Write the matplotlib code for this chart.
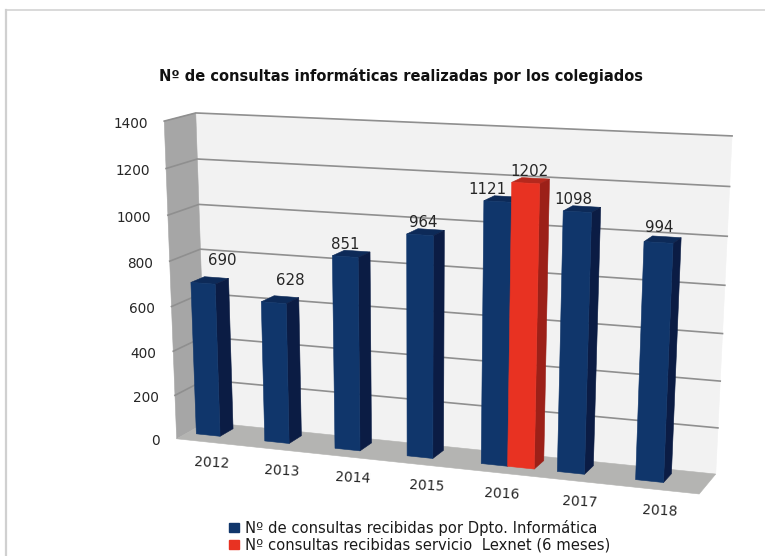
import numpy as np
import matplotlib
matplotlib.use("Agg")
import matplotlib.pyplot as plt

# values
years = ["2012", "2013", "2014", "2015", "2016", "2017", "2018"]
dpto = [690, 628, 851, 964, 1121, 1098, 994]
lexnet = [None, None, None, None, 1202, None, None]
value_ticks = [0, 200, 400, 600, 800, 1000, 1200, 1400]
legend_labels = ["Nº de consultas recibidas por Dpto. Informática",
                 "Nº consultas recibidas servicio  Lexnet (6 meses)"]
title = "Nº de consultas informáticas realizadas por los colegiados"

# data labels were moved by hand in the original, pixels from the top of each bar
label_dx = [19.5, 16.5, 0.5, 3.5, -10.5, -4.5, 0.5]
label_dy = [-23, -22, -12, -12, -12, -12, -15]

plt.rcParams["font.family"] = "DejaVu Sans"

W, H = 765, 556
fig = plt.figure(figsize=(W / 100, H / 100), dpi=100)
ax = fig.add_axes([0, 0, 1, 1])
ax.set_xlim(0, W)
ax.set_ylim(H, 0)
ax.axis("off")

# camera fitted to the corners of the chart box: (x 0-7, value 0-1400, depth 0-1) -> pixels
corners = [((0, 1400, 1), (197, 113)), ((7, 1400, 1), (732, 136)),
           ((7, 0, 1), (716, 473)), ((0, 0, 1), (205, 423)),
           ((0, 0, 0), (178, 438)), ((7, 0, 0), (699, 495)),
           ((0, 1400, 0), (163, 121))]
rows, rhs = [], []
for (cx, cy, cz), (px, py) in corners:
    p = [cx, cy / 1400, cz, 1]
    rows.append(p + [0, 0, 0, 0] + [-px * v for v in p[:3]])
    rows.append([0, 0, 0, 0] + p + [-py * v for v in p[:3]])
    rhs += [px, py]
cam = np.linalg.lstsq(np.array(rows, float), np.array(rhs, float), rcond=None)[0]
cam = np.append(cam, 1).reshape(3, 4)


def project(x, v, z):
    a = cam @ np.array([x, v / 1400, z, 1.0])
    return a[0] / a[2], a[1] / a[2]


def face(pts, color, zorder, **kw):
    xy = [project(*p) for p in pts]
    ax.fill([q[0] for q in xy], [q[1] for q in xy], color=color, zorder=zorder, lw=0.4, **kw)


# walls
face([(0, 0, 1), (7, 0, 1), (7, 1400, 1), (0, 1400, 1)], "#f2f2f2", 1)
face([(0, 0, 0), (0, 0, 1), (0, 1400, 1), (0, 1400, 0)], "#a6a6a6", 1)
face([(0, 0, 0), (7, 0, 0), (7, 0, 1), (0, 0, 1)], "#b4b4b2", 1)
for t in value_ticks[1:]:
    p0, p1, p2 = project(0, t, 0), project(0, t, 1), project(7, t, 1)
    ax.plot([p0[0], p1[0], p2[0]], [p0[1], p1[1], p2[1]], color="#8f8f8f", lw=1.2, zorder=2)

# bars
Z0, Z1 = 0.35, 0.8
BW = 0.35
OFF = 0.135


def bar(x0, x1, v, front, side, top, zo):
    face([(x0, 0, Z0), (x1, 0, Z0), (x1, v, Z0), (x0, v, Z0)], front, zo + 0.2)
    face([(x1, 0, Z0), (x1, 0, Z1), (x1, v, Z1), (x1, v, Z0)], side, zo + 0.1)
    face([(x0, v, Z0), (x1, v, Z0), (x1, v, Z1), (x0, v, Z1)], top, zo)


for i, v in enumerate(dpto):
    bar(i + OFF, i + OFF + BW, v, "#10366b", "#0b1c44", "#0d2a58", 3 + i)
    a = project(i + OFF + BW / 2, v, Z0)
    ax.text(a[0] + label_dx[i], a[1] + label_dy[i], str(v), ha="center", va="center",
            fontsize=10.8, color="#262626", zorder=20)
for i, v in enumerate(lexnet):
    if v is not None:
        bar(i + OFF + BW, i + OFF + 2 * BW, v, "#e83222", "#9c2018", "#b5281d", 3 + i + 0.5)
        a = project(i + OFF + 1.5 * BW, v, Z0)
        ax.text(a[0] + 3.5, a[1] - 12, str(v), ha="center", va="center",
                fontsize=10.8, color="#262626", zorder=20)

# tick labels
for t in value_ticks:
    a = project(0, t, 0)
    ax.text(a[0] - 16.5, a[1] + 2.5, str(t), ha="right", va="center", fontsize=9.8, color="#262626")
for i, y in enumerate(years):
    a = project(i + 0.5, 0, 0)
    ax.text(a[0] + 1, a[1] + 21, y, ha="center", va="center", fontsize=10, rotation=-3, color="#262626")

ax.text(401, 76, title, ha="center", va="center", fontsize=10.5, fontweight="bold", color="#111111")

# legend
for y, c, lab in zip([528, 545], ["#10366b", "#e83222"], legend_labels):
    ax.fill([229, 239, 239, 229], [y - 5, y - 5, y + 4, y + 4], color=c)
    ax.text(245, y, lab, ha="left", va="center", fontsize=10.65, color="#1a1a1a")

# frame of the pasted chart
ax.plot([6.5, 6.5], [H, 10], color="#d0d0d0", lw=1.6)
ax.plot([6, W], [10, 10], color="#d0d0d0", lw=1.1)

fig.savefig("out.png", dpi=100)
